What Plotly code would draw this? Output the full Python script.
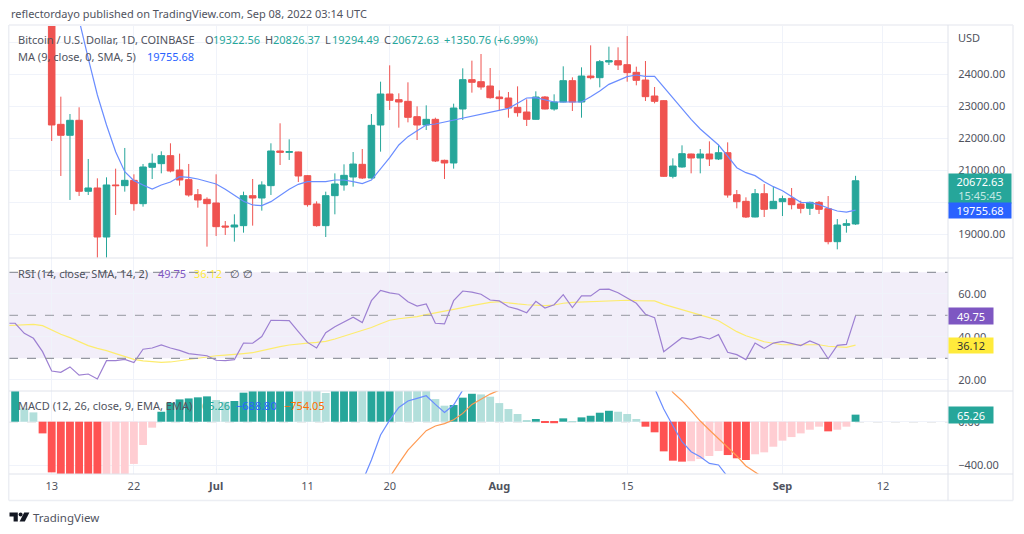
import plotly.graph_objects as go

W, H = 1024, 534

# ---------- data ----------
days = list(range(0, 89))
open_ = [26570,22436,22093,22562,20343,20447,18915,20541,20520,20686,19957,21093,21207,21457,21009,20707,20238,20093,19978,19259,
         19228,19270,20207,20134,20520,21603,21561,21572,20832,19947,19270,20207,20540,20790,21186,20759,22415,23384,23207,23155,
         22676,22415,22592,21311,21228,22915,23832,23769,23634,23290,23259,22967,22821,22592,23290,22915,23134,23801,23134,23946,
         23894,24384,24426,24301,24061,23821,23321,23176,20811,21103,21509,21384,21509,21353,21550,20238,20030,19540,20269,19800,
         20019,20123,19946,19811,19998,19800,18769,19280,19322.56]
high = [26900,23301,22759,22968,21353,20749,20780,21051,21697,20874,21197,21520,21593,21843,21520,21197,20415,20155,20874,19415,
        19624,20332,20728,20655,21843,22468,21968,21582,20853,20030,20332,20905,21186,21571,21665,22759,23769,24280,23405,23749,
        22998,23030,22644,21332,23082,24186,24426,24634,24196,23499,23446,23623,23217,23467,23321,23374,24249,23905,24217,24905,
        24446,24863,24842,25196,24238,24415,23603,23190,21373,21780,21520,21665,21905,21801,21873,20384,20155,20415,20571,20488,
        20207,20446,20050,20019,20040,20196,19477,19467,20826.37]
low = [21916,20822,20072,20197,20228,18270,18270,19603,20332,19738,19863,20728,20905,20936,20520,20176,19832,18613,18947,18978,
       18770,19051,19270,19738,20228,21165,21322,20634,19863,19238,18915,19624,20363,20488,20730,20738,21582,22884,22332,22498,
       21946,22259,21259,20728,21051,22571,23426,23519,23238,22853,22644,22676,22384,22585,22905,22863,23125,22853,22644,23842,
       23592,24290,24134,23769,23655,23165,23092,20790,20748,21082,20905,20905,21134,21321,20144,19811,19509,19530,19540,19790,
       19571,19780,19655,19603,19634,18686,18530,19051,19294.49]
close = [22416,22093,22562,20343,20447,18915,20541,20520,20686,19957,21103,21218,21457,20978,20697,20228,20072,19957,19238,19228,
         19290,20207,20134,20541,21603,21561,21582,20822,19926,19270,20207,20572,20842,21196,20759,22405,23384,23186,23134,22655,
         22415,22592,21290,21228,22946,23832,23749,23603,23269,23238,22946,22801,22592,23290,22915,23134,23801,23134,23946,23894,
         24394,24426,24290,24051,23811,23301,23155,20811,21134,21519,21384,21509,21353,21550,20227,20019,19540,20269,19780,20030,
         20113,19925,19811,19998,19780,18769,19290,19332,20672.63]

ma_days = list(range(2, 89))
ma_values = [26800,25700,24499,23353,22416,21582,20957,20676,20541,20415,20541,20634,20801,20780,20728,20645,20572,20405,20207,20030,
             19916,19895,20020,20218,20405,20561,20645,20645,20645,20697,20696,20644,20582,20696,21040,21394,21790,22051,22238,22415,
             22446,22509,22571,22634,22696,22738,22801,22884,22936,23092,23259,23269,23196,23134,23134,23124,23134,23301,23478,23686,
             23801,23926,23978,23936,23936,23592,23269,22936,22592,22290,22030,21790,21446,21082,20925,20832,20644,20488,20363,20175,
             19998,19988,19925,19821,19727,19696,19755.68]

rsi_days = list(range(-5, 89))
rsi_values = [46.3,46.3,41.6,39.3,33.1,24.1,23.5,26.0,22.2,22.7,20.4,28.9,28.9,29.5,28.0,34.2,34.8,36.2,34.8,33.7,
              32.2,31.7,31.2,29.1,28.9,29.4,37.1,37.0,40.1,47.7,47.5,47.5,42.4,37.4,34.8,41.9,44.7,
              46.9,49.1,46.6,56.8,61.6,60.4,59.8,56.3,54.3,55.3,46.3,46.0,56.8,61.3,60.8,59.8,57.1,56.7,54.0,
              52.9,51.2,56.5,53.4,54.9,59.6,53.6,59.0,59.0,62.1,62.2,60.5,57.9,55.6,50.5,48.9,33.1,36.2,
              39.6,38.8,40.1,39.0,41.0,32.8,31.7,29.4,37.1,34.6,37.1,37.9,37.0,35.9,38.1,36.3,29.8,36.0,36.5,49.75]
rsi_sma = [45.2,45.5,45.8,45.8,45.2,43.2,41.2,39.6,37.6,35.9,34.6,33.6,32.2,30.8,29.5,28.8,28.3,28.1,28.3,28.9,
           29.5,30.0,30.6,31.2,31.5,31.7,32.2,32.6,33.6,34.5,35.4,36.2,36.8,37.1,37.4,37.9,39.0,
           40.4,41.8,43.0,44.3,46.1,47.7,48.4,48.9,49.4,50.3,51.1,51.7,52.6,53.6,54.5,55.3,56.0,56.3,55.7,
           55.3,54.9,54.8,54.5,54.8,55.6,56.0,56.2,56.2,56.3,56.7,56.8,57.0,56.8,56.8,56.7,
           55.1,53.9,52.6,51.4,50.1,48.9,47.5,45.0,42.4,40.5,39.1,37.7,37.0,36.3,36.3,36.3,36.5,36.3,35.6,35.3,35.1,36.12]

hist_days = list(range(-4, 89))
hist_values = [300,123,86,-108,-468,-520,-550,-580,-600,-620,-600,-560,-510,-390,-215,-55,92,175,206,215,
               225,234,200,184,191,268,300,320,340,350,360,340,320,300,265,290,310,320,300,310,
               330,350,340,320,300,290,209,148,154,222,258,252,231,172,117,71,15,25,-12,-14,
               31,6,40,55,83,101,92,71,25,-46,-98,-274,-360,-369,-365,-345,-317,-271,-308,-338,
               -354,-301,-283,-231,-175,-142,-108,-74,-46,-89,-74,-46,65.26]

macd_days = list(range(30, 89))
macd_values = [-800,-750,-700,-640,-554,-354,-123,15,132,191,215,240,160,86,154,308,430,470,500,520,
               520,510,500,500,490,480,500,500,520,540,570,600,610,600,570,500,308,117,-37,-185,
               -277,-323,-385,-400,-508,-620,-700,-760,-800,-830,-860,-870,-860,-840,-810,-820,-810,-790,-688.8]
signal_days = list(range(34, 89))
signal_values = [-830,-760,-640,-508,-385,-262,-169,-83,-40,-18,18,77,160,209,255,292,340,370,400,420,
                 440,450,460,470,480,490,500,510,520,530,535,530,500,400,271,194,102,6,-77,-154,
                 -240,-317,-409,-468,-540,-600,-650,-690,-720,-750,-770,-780,-780,-775,-754.05]

x_tick_days = [0, 9, 18, 28, 37, 49, 63, 80, 91]
x_tick_labels = ["13", "22", "<b>Jul</b>", "11", "20", "<b>Aug</b>", "15", "<b>Sep</b>", "12"]
price_ticks = [19000, 20000, 21000, 22000, 23000, 24000, 25000]
price_labels = ["19000.00", "", "21000.00", "22000.00", "23000.00", "24000.00", ""]
rsi_ticks = [20, 40, 60]
rsi_labels = ["20.00", "40.00", "60.00"]
macd_ticks = [-400, 0]
macd_labels = ["\u2212400.00", "0.00"]

assert len(open_) == len(high) == len(low) == len(close) == len(days)
assert len(ma_values) == len(ma_days) and len(rsi_values) == len(rsi_days) and len(rsi_sma) == len(rsi_days)
assert len(hist_values) == len(hist_days) and len(macd_values) == len(macd_days) and len(signal_values) == len(signal_days)

# ---------- style ----------
FONT = "Noto Sans"
FS = 11
TXT = "#50535e"
UP, DOWN = "#26a69a", "#ef5350"
GRID = "#f0f3fa"
EDGE = "#e0e3eb"
DASH = "#9598a1"

def fx(p): return p / W
def fy(p): return 1 - p / H

PLOT_L, PLOT_R = 9, 948
P1 = (26, 258); P2 = (258, 391); P3 = (391, 474)

hist_colors = []
for k, v in enumerate(hist_values):
    prev = hist_values[k - 1] if k else v
    if v >= 0:
        hist_colors.append("#26a69a" if v >= prev else "#b2dfdb")
    else:
        hist_colors.append("#ff5252" if v <= prev else "#ffcdd2")

fig = go.Figure()
fig.add_trace(go.Candlestick(x=days, open=open_, high=high, low=low, close=close, xaxis="x", yaxis="y",
                             increasing=dict(line=dict(color=UP, width=1), fillcolor=UP),
                             decreasing=dict(line=dict(color=DOWN, width=1), fillcolor=DOWN),
                             whiskerwidth=0))
fig.add_trace(go.Scatter(x=ma_days, y=ma_values, mode="lines", xaxis="x", yaxis="y",
                         line=dict(color="#6a8dff", width=1.2)))
fig.add_trace(go.Scatter(x=rsi_days, y=rsi_sma, mode="lines", xaxis="x2", yaxis="y2",
                         line=dict(color="#fdec6e", width=1.2)))
fig.add_trace(go.Scatter(x=rsi_days, y=rsi_values, mode="lines", xaxis="x2", yaxis="y2",
                         line=dict(color="#9d80d2", width=1.2)))
fig.add_trace(go.Bar(x=hist_days, y=hist_values, xaxis="x3", yaxis="y3", width=0.86,
                     marker=dict(color=hist_colors, line=dict(width=0))))
fig.add_trace(go.Scatter(x=signal_days, y=signal_values, mode="lines", xaxis="x3", yaxis="y3",
                         line=dict(color="#ff9a52", width=1.2)))
fig.add_trace(go.Scatter(x=macd_days, y=macd_values, mode="lines", xaxis="x3", yaxis="y3",
                         line=dict(color="#6a8dff", width=1.2)))

x_range = [-4.674, 98.12]
xbase = dict(range=x_range, domain=[fx(PLOT_L), fx(PLOT_R)], tickvals=x_tick_days, showgrid=True,
             gridcolor=GRID, gridwidth=1, zeroline=False, showline=False, fixedrange=True,
             rangeslider=dict(visible=False))
ybase = dict(side="right", showgrid=True, gridcolor=GRID, gridwidth=1, zeroline=False, showline=False,
             ticks="outside", ticklen=7, tickcolor="rgba(0,0,0,0)", fixedrange=True,
             tickfont=dict(family=FONT, size=FS, color=TXT))

fig.update_layout(
    width=W, height=H, autosize=False, margin=dict(l=0, r=0, t=0, b=0, pad=0),
    paper_bgcolor="white", plot_bgcolor="white", showlegend=False, barmode="overlay",
    boxgap=0.28, boxgroupgap=0,
    font=dict(family=FONT, size=FS, color=TXT),
    xaxis=dict(xbase, anchor="y", ticktext=[""] * len(x_tick_days)),
    xaxis2=dict(xbase, anchor="y2", ticktext=[""] * len(x_tick_days)),
    xaxis3=dict(xbase, anchor="y3", ticktext=x_tick_labels, ticks="outside", ticklen=2,
                tickcolor="rgba(0,0,0,0)", tickfont=dict(family=FONT, size=FS, color=TXT)),
    yaxis=dict(ybase, anchor="x", domain=[fy(P1[1]), fy(P1[0])], range=[18259, 25509],
               tickvals=price_ticks, ticktext=price_labels),
    yaxis2=dict(ybase, anchor="x2", domain=[fy(P2[1]), fy(P2[0])], range=[14.8, 76.65],
                tickvals=rsi_ticks, ticktext=rsi_labels),
    yaxis3=dict(ybase, anchor="x3", domain=[fy(P3[1]), fy(P3[0])], range=[-483.1, 283.6],
                tickvals=macd_ticks, ticktext=macd_labels),
)

shapes = []
# RSI band and its dashed levels
shapes.append(dict(type="rect", xref="x2", yref="y2", x0=x_range[0], x1=x_range[1], y0=30, y1=70,
                   fillcolor="rgba(126,87,194,0.1)", line=dict(width=0), layer="below"))
for lvl, w in ((70, 1.2), (50, 1), (30, 1.2)):
    shapes.append(dict(type="line", xref="x2", yref="y2", x0=x_range[0], x1=x_range[1], y0=lvl, y1=lvl,
                       line=dict(color=DASH, width=w, dash="dash"), layer="above"))
shapes.append(dict(type="line", xref="x3", yref="y3", x0=x_range[0], x1=x_range[1], y0=0, y1=0,
                   line=dict(color=DASH, width=1, dash="dash"), layer="below"))

def pline(x0, y0, x1, y1, color=EDGE, width=1):
    shapes.append(dict(type="line", xref="paper", yref="paper", x0=fx(x0), y0=fy(y0), x1=fx(x1), y1=fy(y1),
                       line=dict(color=color, width=width), layer="above"))

# frame and pane separators
pline(9, 25, 1013, 25, "#eceef3", 1.5)
pline(9, 500.5, 1013, 500.5, "#eceef3", 1.5)
pline(8.7, 25, 8.7, 500.5, "#eceef3", 1.5)
pline(1013, 25, 1013, 500.5, "#eceef3", 1.5)
pline(9, 258, 1013, 258)
pline(9, 391, 1013, 391)
pline(9, 474, 1013, 474)
pline(948, 25, 948, 500.5)

# TradingView logo
pts = lambda seq: "M" + " L".join(f"{fx(a):.5f},{fy(b):.5f}" for a, b in seq) + " Z"
logo_black = "#131722"
shapes.append(dict(type="path", xref="paper", yref="paper", layer="above", line=dict(width=0), fillcolor=logo_black,
                   path=pts([(9.5, 512.5), (17.8, 512.5), (17.8, 521.6), (13.6, 521.6), (13.6, 516.6), (9.5, 516.6)])))
shapes.append(dict(type="circle", xref="paper", yref="paper", layer="above", line=dict(width=0), fillcolor=logo_black,
                   x0=fx(18.6), x1=fx(22.6), y0=fy(516.6), y1=fy(512.5)))
shapes.append(dict(type="path", xref="paper", yref="paper", layer="above", line=dict(width=0), fillcolor=logo_black,
                   path=pts([(24.2, 512.5), (29.4, 512.5), (24.8, 521.6), (19.6, 521.6)])))
fig.update_layout(shapes=shapes)

anns = []
def label(x, y, text, color=TXT, size=FS):
    anns.append(dict(xref="paper", yref="paper", x=fx(x), y=fy(y), xanchor="left", yanchor="middle",
                     text=text, showarrow=False, align="left", borderpad=0,
                     font=dict(family=FONT, size=size, color=color)))

def badge(x0, x1, y0, y1, text, bg, color="white", size=FS):
    anns.append(dict(xref="paper", yref="paper", x=fx(x0), y=fy((y0 + y1) / 2), xanchor="left", yanchor="middle",
                     text=text, showarrow=False, align="center", bgcolor=bg, width=x1 - x0, height=y1 - y0,
                     borderpad=0, font=dict(family=FONT, size=size, color=color)))

label(10, 14, "reflectordayo published on TradingView.com, Sep 08, 2022 03:14 UTC")
TEAL = "#26a69a"
label(17, 40, "Bitcoin / U.S. Dollar, 1D, COINBASE")
label(204, 40, "O"); label(212, 40, "19322.56", TEAL)
label(264, 40, "H"); label(272, 40, "20826.37", TEAL)
label(324, 40, "L"); label(331, 40, "19294.49", TEAL)
label(383, 40, "C"); label(391, 40, "20672.63", TEAL)
label(443, 40, "+1350.76", TEAL); label(493, 40, "(+6.99%)", TEAL)
label(17, 56, "MA (9, close, 0, SMA, 5)")
label(146, 56, "19755.68", "#2962ff")
label(17, 273, "RSI (14, close, SMA, 14, 2)")
label(157, 273, "49.75", "#7e57c2")
label(193, 273, "36.12", "#ffeb3b")
label(229, 273, "\u2205"); label(242, 273, "\u2205")
label(17, 405, "MACD (12, 26, close, 9, EMA, EMA)")
label(201, 405, "65.26", TEAL)
label(235, 405, "\u2212688.80", "#2962ff")
label(283, 405, "\u2212754.05", "#ff6d00")
label(957, 38, "USD")
label(31.5, 517, "TradingView", TXT, 11.5)

badge(948, 1010, 173.7, 202.7, '20672.63<br><span style="color:#c4e8e4">15:45:45</span>', TEAL)
badge(948, 1010, 203, 218, "19755.68", "#2962ff")
badge(948, 992, 308, 324, "49.75", "#7e57c2")
badge(948, 992, 337.7, 353, "36.12", "#ffeb3b", "#333333")
badge(948, 992, 406.7, 422.7, "65.26", TEAL)
fig.update_layout(annotations=anns)

fig.write_html("out.html", config={"displayModeBar": False},
               post_script="document.body.style.margin='0';document.body.style.overflow='hidden';")
